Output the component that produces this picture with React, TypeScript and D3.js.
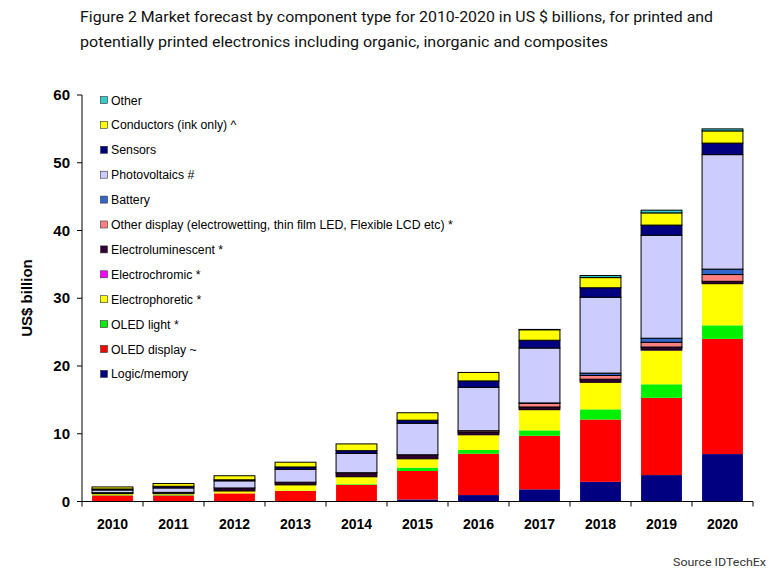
import React from "react";
import * as d3 from "d3";

const years = ["2010","2011","2012","2013","2014","2015","2016","2017","2018","2019","2020"];

const seriesNames = [
  "Logic/memory",
  "OLED display ~",
  "OLED light *",
  "Electrophoretic *",
  "Electrochromic *",
  "Electroluminescent *",
  "Other display (electrowetting, thin film LED, Flexible LCD etc) *",
  "Battery",
  "Photovoltaics #",
  "Sensors",
  "Conductors (ink only) ^",
  "Other",
];

const seriesColors = ["#000080","#FF0000","#00F000","#FFFF00","#FF00FF","#330033","#FF8080","#3366CC","#CCCCFF","#000080","#FFFF00","#33CCCC"];
const seriesBordered = [false,false,false,false,false,true,true,true,true,true,true,true];

const logicMemory =      [0.05,0.05,0.05,0.05,0.05,0.3,0.95,1.8,2.9,3.9,7.0];
const oledDisplay =      [0.85,0.85,1.15,1.5,2.4,4.2,6.1,7.9,9.2,11.4,17.0];
const oledLight =        [0.05,0.1,0.0,0.05,0.1,0.5,0.55,0.8,1.5,2.0,2.0];
const electrophoretic =  [0.2,0.15,0.35,0.85,1.1,1.3,2.2,3.0,3.95,5.0,6.1];
const electrochromic =   [0,0,0,0,0,0,0.05,0.05,0.05,0.05,0.05];
const electroluminescent=[0.15,0.2,0.45,0.4,0.6,0.6,0.4,0.4,0.45,0.45,0.35];
const otherDisplay =     [0,0,0,0,0,0,0.2,0.55,0.55,0.7,1.0];
const battery =          [0,0,0,0,0,0,0,0.05,0.35,0.6,0.8];
const photovoltaics =    [0.4,0.65,1.05,1.9,2.85,4.65,6.4,8.1,11.2,15.2,16.9];
const sensors =          [0.15,0.25,0.15,0.35,0.4,0.45,0.95,1.15,1.4,1.5,1.7];
const conductors =       [0.3,0.4,0.6,0.7,1.0,1.1,1.25,1.55,1.5,1.8,1.8];
const other =            [0,0,0,0,0,0,0,0.05,0.3,0.4,0.3];

const seriesValues = [logicMemory, oledDisplay, oledLight, electrophoretic, electrochromic, electroluminescent, otherDisplay, battery, photovoltaics, sensors, conductors, other];

const yTicks = [0,10,20,30,40,50,60];

export default function App() {
  const W = 782, H = 577;
  const left = 82, right = 753, top = 95, bottom = 501.5;

  const x = d3.scaleBand<string>().domain(years).range([left, right]).paddingInner(0.33).paddingOuter(0.165);
  const y = d3.scaleLinear().domain([0, 60]).range([bottom, top]);
  const step = x.step();

  const table = years.map((yr, i) => {
    const row: any = { year: yr };
    seriesNames.forEach((n, s) => { row[n] = seriesValues[s][i]; });
    return row;
  });
  const stacked = d3.stack<any>().keys(seriesNames)(table);

  const legendOrder = seriesNames.map((n, i) => i).reverse();

  return (
    <svg width={W} height={H} style={{ position: "absolute", left: 0, top: 0, background: "#fff" }}>
      <rect x={0} y={0} width={W} height={H} fill="#fff" />
      <text x={80} y={22} fontFamily="Roboto, 'Noto Sans', sans-serif" fontSize={14} fill="#111" textLength={633} lengthAdjust="spacingAndGlyphs">
        Figure 2 Market forecast by component type for 2010-2020 in US $ billions, for printed and
      </text>
      <text x={80} y={47} fontFamily="Roboto, 'Noto Sans', sans-serif" fontSize={14} fill="#111" textLength={528} lengthAdjust="spacingAndGlyphs">
        potentially printed electronics including organic, inorganic and composites
      </text>

      {stacked.map((layer, s) => (
        <g key={s}>
          {layer.map((d, i) => {
            const h = y(d[0]) - y(d[1]);
            if (h <= 0) return null;
            return (
              <rect key={i} x={x(years[i])!} y={y(d[1])} width={x.bandwidth()} height={h}
                fill={seriesColors[s]} stroke={seriesBordered[s] ? "#000" : "none"} strokeWidth={1} />
            );
          })}
        </g>
      ))}

      {/* axes */}
      <line x1={left} y1={top} x2={left} y2={bottom} stroke="#000" strokeWidth={1} />
      <line x1={left} y1={bottom} x2={right} y2={bottom} stroke="#000" strokeWidth={1} />
      {yTicks.map((t) => (
        <g key={t}>
          <line x1={left - 5} x2={left} y1={y(t)} y2={y(t)} stroke="#000" />
          <text x={70} y={y(t) + 5} textAnchor="end" fontFamily="'Liberation Sans', Arial, sans-serif" fontWeight="bold" fontSize={15} fill="#000">{t}</text>
        </g>
      ))}
      {years.map((yr, i) => (
        <line key={"t" + i} x1={left + i * step} x2={left + i * step} y1={bottom} y2={bottom + 5} stroke="#000" />
      ))}
      <line x1={right} x2={right} y1={bottom} y2={bottom + 5} stroke="#000" />
      {years.map((yr) => (
        <text key={yr} x={x(yr)! + x.bandwidth() / 2} y={529} textAnchor="middle" fontFamily="'Liberation Sans', Arial, sans-serif" fontWeight="bold" fontSize={14} fill="#000">{yr}</text>
      ))}
      <text transform={`translate(32,298) rotate(-90)`} textAnchor="middle" fontFamily="'Liberation Sans', Arial, sans-serif" fontWeight="bold" fontSize={15} fill="#000">US$ billion</text>

      {/* legend */}
      {legendOrder.map((s, k) => {
        const cy = 100 + k * 24.9;
        return (
          <g key={"l" + s}>
            <rect x={100.5} y={cy - 3.5} width={7} height={7} fill={seriesColors[s]} stroke="#333" strokeWidth={0.6} />
            <text x={111} y={cy + 4.5} fontFamily="'Liberation Sans', Arial, sans-serif" fontSize={12.3} fill="#000">{seriesNames[s]}</text>
          </g>
        );
      })}

      <text x={766} y={566} textAnchor="end" fontFamily="Roboto, 'Noto Sans', sans-serif" fontSize={11.5} fill="#333" textLength={93} lengthAdjust="spacingAndGlyphs">Source IDTechEx</text>
    </svg>
  );
}
